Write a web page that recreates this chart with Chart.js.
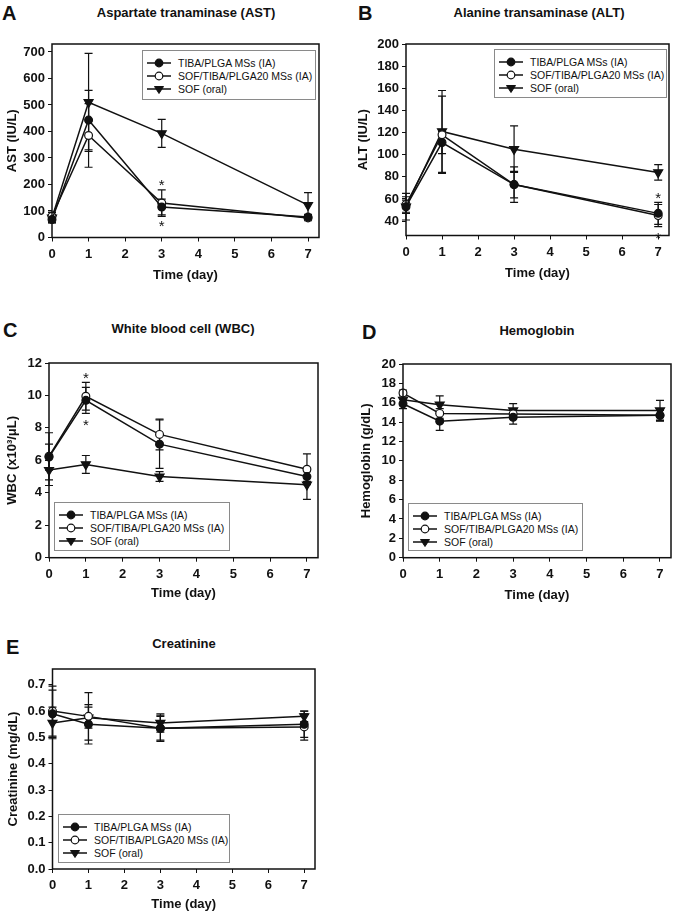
<!DOCTYPE html>
<html>
<head>
<meta charset="utf-8">
<script src="https://cdn.jsdelivr.net/npm/chart.js@4.4.1/dist/chart.umd.min.js"></script>
<style>
  body { margin:0; width:675px; height:914px; position:relative; overflow:hidden; background:#fff;
         font-family:'Liberation Sans', Arial, sans-serif; color:#111; }
  canvas { position:absolute; }
  .letter { position:absolute; font-weight:bold; font-size:20px; line-height:20px; }
  .title  { position:absolute; font-weight:bold; font-size:13px; line-height:15px; white-space:nowrap; transform:translateX(-50%); }
  .legend { position:absolute; border:1px solid #8a8a8a; background:#fff; box-sizing:border-box;
            padding:5px 0 0 4px; font-size:10.5px; }
  .legend .row { display:flex; align-items:center; height:13px; white-space:nowrap; }
  .legend svg { margin-right:7px; flex:none; }
</style>
</head>
<body>
<script>
// ========== DATA ==========
const DAYS = [0, 1, 3, 7];
const SERIES = ['TIBA/PLGA MSs (IA)', 'SOF/TIBA/PLGA20 MSs (IA)', 'SOF (oral)'];

// AST (IU/L)
const astTiba     = [68, 443, 115, 77];
const astTibaErr  = [12, 112, 30, 10];
const astSof20    = [80, 385, 130, 74];
const astSof20Err = [15, 120, 50, 10];
const astOral     = [75, 510, 393, 122];
const astOralErr  = [20, 185, 53, 47];

// ALT (IU/L)
const altTiba     = [53, 111, 73, 47];
const altTibaErr  = [12, 10, 12, 10];
const altSof20    = [55, 118, 73, 45];
const altSof20Err = [7, 35, 16, 10];
const altOral     = [53, 121, 105, 84];
const altOralErr  = [6, 37, 21, 7];

// WBC (x10^3/uL)
const wbcTiba     = [6.2, 9.7, 7.0, 5.0];
const wbcTibaErr  = [0.8, 0.8, 1.5, 0.3];
const wbcSof20    = [6.25, 9.95, 7.6, 5.45];
const wbcSof20Err = [1.45, 0.85, 0.95, 0.95];
const wbcOral     = [5.4, 5.75, 5.0, 4.5];
const wbcOralErr  = [0.95, 0.55, 0.3, 0.9];

// Hemoglobin (g/dL)
const hbTiba      = [15.9, 14.1, 14.5, 14.7];
const hbTibaErr   = [0.5, 0.95, 0.7, 0.6];
const hbSof20     = [17.0, 14.9, 14.85, 14.7];
const hbSof20Err  = [0.3, 0.5, 0.5, 0.5];
const hbOral      = [16.3, 15.8, 15.2, 15.2];
const hbOralErr   = [0.5, 0.9, 0.7, 1.05];

// Creatinine (mg/dL)
const crTiba      = [0.59, 0.55, 0.535, 0.55];
const crTibaErr   = [0.09, 0.075, 0.05, 0.05];
const crSof20     = [0.60, 0.58, 0.535, 0.54];
const crSof20Err  = [0.095, 0.09, 0.045, 0.05];
const crOral      = [0.555, 0.575, 0.555, 0.58];
const crOralErr   = [0.06, 0.04, 0.035, 0.02];

// significance marks: series index, day, direction (1 = above upper bar, -1 = below lower bar)
const astStars = [{series:1, day:3, dir:1}, {series:0, day:3, dir:-1}];
const altStars = [{series:0, day:7, dir:1}, {series:1, day:7, dir:-1}];
const wbcStars = [{series:1, day:1, dir:1}, {series:0, day:1, dir:-1}];

// ========== STYLE ==========
const INK = '#111';
const FONT = "'Liberation Sans', Arial, sans-serif";
const MARKERS = [
  {pointStyle:'circle',   pointRadius:3.9, pointBackgroundColor:INK,    pointRotation:0},
  {pointStyle:'circle',   pointRadius:3.9, pointBackgroundColor:'#fff', pointRotation:0},
  {pointStyle:'triangle', pointRadius:5.2, pointBackgroundColor:INK,    pointRotation:180},
];

// ========== PLUGINS ==========
const frame = {
  id:'frame',
  afterDraw(chart){
    const {ctx, chartArea:a} = chart;
    ctx.save(); ctx.strokeStyle = INK; ctx.lineWidth = 1.5;
    ctx.strokeRect(a.left, a.top, a.right - a.left, a.bottom - a.top);
    ctx.restore();
  }
};

const errorBars = {
  id:'errorBars',
  beforeDatasetsDraw(chart){
    const {ctx, scales:{x, y}} = chart;
    ctx.save(); ctx.strokeStyle = INK; ctx.lineWidth = 1.2;
    chart.data.datasets.forEach(ds => {
      ds.data.forEach((p, i) => {
        const e = ds.errors[i];
        const px = x.getPixelForValue(p.x);
        const hi = y.getPixelForValue(p.y + e), lo = y.getPixelForValue(p.y - e);
        ctx.beginPath();
        ctx.moveTo(px, hi); ctx.lineTo(px, lo);
        ctx.moveTo(px - 4, hi); ctx.lineTo(px + 4, hi);
        ctx.moveTo(px - 4, lo); ctx.lineTo(px + 4, lo);
        ctx.stroke();
      });
    });
    ctx.restore();
  }
};

const stars = {
  id:'stars',
  afterDatasetsDraw(chart, args, opts){
    const {ctx, scales:{x, y}} = chart;
    ctx.save(); ctx.fillStyle = INK; ctx.font = `15px ${FONT}`;
    ctx.textAlign = 'center'; ctx.textBaseline = 'alphabetic';
    (opts.marks || []).forEach(m => {
      const ds = chart.data.datasets[m.series];
      const i = DAYS.indexOf(m.day);
      const cap = y.getPixelForValue(ds.data[i].y + m.dir * ds.errors[i]);
      const cy = cap - m.dir * 8;
      ctx.fillText('*', x.getPixelForValue(m.day), cy + 8.5);
    });
    ctx.restore();
  }
};

function sampleSvg(ds){
  let mark;
  if (ds.pointStyle === 'triangle'){
    mark = `<polygon points="12,10.5 7.5,3.5 16.5,3.5" fill="${ds.pointBackgroundColor}" stroke="${INK}" stroke-width="1"/>`;
  } else {
    mark = `<circle cx="12" cy="6" r="3.8" fill="${ds.pointBackgroundColor}" stroke="${INK}" stroke-width="1.2"/>`;
  }
  return `<svg width="24" height="12"><line x1="0" y1="6" x2="24" y2="6" stroke="${INK}" stroke-width="1.5"/>${mark}</svg>`;
}

const htmlLegend = {
  id:'htmlLegend',
  afterUpdate(chart, args, opts){
    const box = document.getElementById(opts.containerID);
    if (!box) return;
    box.innerHTML = '';
    chart.data.datasets.forEach(ds => {
      const row = document.createElement('div');
      row.className = 'row';
      row.innerHTML = sampleSvg(ds) + `<span>${ds.label}</span>`;
      box.appendChild(row);
    });
  }
};

// ========== PANELS ==========
const PANELS = [
  { id:'A', letter:[2, 3], title:'Aspartate tranaminase (AST)', titleAt:[186, 12],
    yTitle:'AST (IU/L)', yTitleX:12, xTitleY:275, canvasLeft:2,
    area:{L:52, T:44, R:319, B:237.5}, yMin:0, yMax:730, yStep:100, dec:0,
    series:[[astTiba, astTibaErr], [astSof20, astSof20Err], [astOral, astOralErr]],
    stars:astStars, legend:{left:142, top:50, width:174, height:50} },
  { id:'B', letter:[358, 3], title:'Alanine transaminase (ALT)', titleAt:[539, 12],
    yTitle:'ALT (IU/L)', yTitleX:363, xTitleY:273.5, canvasLeft:353,
    area:{L:406, T:44, R:669, B:236}, yMin:27, yMax:200, yStep:20, dec:0,
    series:[[altTiba, altTibaErr], [altSof20, altSof20Err], [altOral, altOralErr]],
    stars:altStars, legend:{left:494, top:49, width:173, height:49} },
  { id:'C', letter:[3, 320], title:'White blood cell (WBC)', titleAt:[183, 328],
    yTitle:'WBC (x10³/μL)', yTitleX:12, xTitleY:593, canvasLeft:2,
    area:{L:49, T:363, R:318, B:557.7}, yMin:0, yMax:12, yStep:2, dec:0,
    series:[[wbcTiba, wbcTibaErr], [wbcSof20, wbcSof20Err], [wbcOral, wbcOralErr]],
    stars:wbcStars, legend:{left:54, top:502, width:176, height:49} },
  { id:'D', letter:[362, 322], title:'Hemoglobin', titleAt:[537, 330],
    yTitle:'Hemoglobin (g/dL)', yTitleX:366, xTitleY:595, canvasLeft:356,
    area:{L:403, T:364, R:671, B:557.7}, yMin:0, yMax:20, yStep:2, dec:0,
    series:[[hbTiba, hbTibaErr], [hbSof20, hbSof20Err], [hbOral, hbOralErr]],
    stars:[], legend:{left:408, top:503, width:175, height:48} },
  { id:'E', letter:[6, 637], title:'Creatinine', titleAt:[184, 643],
    yTitle:'Creatinine (mg/dL)', yTitleX:13, xTitleY:904, canvasLeft:3,
    area:{L:52.5, T:669, R:315, B:869}, yMin:0, yMax:0.76, yStep:0.1, dec:1,
    series:[[crTiba, crTibaErr], [crSof20, crSof20Err], [crOral, crOralErr]],
    stars:[], legend:{left:58, top:814, width:172, height:49} },
];

function addText(cls, text, x, y){
  const d = document.createElement('div');
  d.className = cls; d.textContent = text;
  d.style.left = x + 'px'; d.style.top = y + 'px';
  document.body.appendChild(d);
}

function buildPanel(p){
  addText('letter', p.id, p.letter[0], p.letter[1]);
  addText('title', p.title, p.titleAt[0], p.titleAt[1] - 7.5);

  const top = p.area.T - 14, bottom = p.xTitleY + 8;
  const left = p.canvasLeft, right = p.area.R + 14;
  const cv = document.createElement('canvas');
  cv.width = right - left; cv.height = bottom - top;
  cv.style.left = left + 'px'; cv.style.top = top + 'px';
  document.body.appendChild(cv);

  const lg = document.createElement('div');
  lg.className = 'legend'; lg.id = 'legend' + p.id;
  Object.assign(lg.style, {left:p.legend.left+'px', top:p.legend.top+'px', width:p.legend.width+'px', height:p.legend.height+'px'});
  document.body.appendChild(lg);

  const yW = p.area.L - left;
  const xH = bottom - p.area.B;
  const yTitlePad = p.yTitleX - left - 7.8;
  const tickFont = {family:FONT, size:13, weight:'bold'};
  const titleFont = {family:FONT, size:13, weight:'bold'};

  const datasets = p.series.map(([vals, errs], k) => ({
    label: SERIES[k],
    data: DAYS.map((d, i) => ({x:d, y:vals[i]})),
    errors: errs,
    borderColor: INK, borderWidth: 1.5,
    pointBorderColor: INK, pointBorderWidth: 1.2,
    ...MARKERS[k],
    tension: 0, clip: false
  }));

  new Chart(cv, {
    type:'line',
    data:{datasets},
    options:{
      responsive:false, animation:false, events:[],
      layout:{padding:{top:14, right:14, left:0, bottom:0}},
      plugins:{
        legend:{display:false}, tooltip:{enabled:false},
        htmlLegend:{containerID:'legend' + p.id},
        stars:{marks:p.stars}
      },
      scales:{
        x:{
          type:'linear', min:0, max:7.3,
          border:{display:false},
          grid:{drawOnChartArea:false, drawTicks:true, tickLength:4, color:INK, lineWidth:1},
          ticks:{stepSize:1, includeBounds:false, padding:5, color:INK, font:tickFont, maxRotation:0},
          title:{display:true, text:'Time (day)', color:INK, font:titleFont, padding:{top:0, bottom:0}},
          afterFit(s){ s.height = xH; }
        },
        y:{
          type:'linear', min:p.yMin, max:p.yMax,
          border:{display:false},
          grid:{drawOnChartArea:false, drawTicks:true, tickLength:4, color:INK, lineWidth:1},
          ticks:{stepSize:p.yStep, includeBounds:false, padding:3, color:INK, font:tickFont,
                 callback:v => Number(v).toFixed(p.dec)},
          title:{display:true, text:p.yTitle, color:INK, font:titleFont, padding:{top:yTitlePad, bottom:0}},
          afterFit(s){ s.width = yW; }
        }
      }
    },
    plugins:[frame, errorBars, stars, htmlLegend]
  });
}

PANELS.forEach(buildPanel);
</script>
</body>
</html>
